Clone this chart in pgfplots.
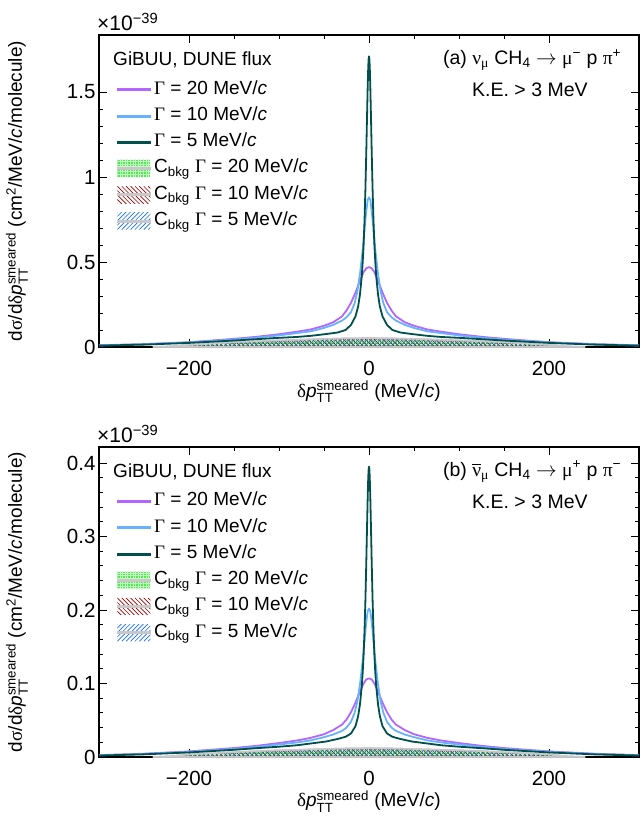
\documentclass[border=0pt]{standalone}
\usepackage{pgfplots}
\pgfplotsset{compat=1.18}
\usepackage{amsmath}
\usepackage{fontspec}
\setmainfont{Liberation Sans}
\newfontfamily\grk{Liberation Serif}
\definecolor{cP}{RGB}{178,102,255}
\definecolor{cB}{RGB}{102,178,255}
\definecolor{cT}{RGB}{0,80,76}
\definecolor{gbkg}{RGB}{80,235,80}
\definecolor{gline}{RGB}{200,250,200}
\definecolor{rbkg}{RGB}{160,0,0}
\definecolor{bbkg}{RGB}{20,110,245}
\definecolor{bkgedge}{RGB}{200,200,200}
\newcommand\ppa[1]{\pgfpointanchor{path picture bounding box}{#1}}
\tikzset{
  hatchG/.style={fill=gbkg, path picture={\pgfsetlinewidth{0.7pt}\pgfsetstrokecolor{gline}%
     \foreach \k in {0,...,180}{\pgfpathmoveto{\pgfpointadd{\ppa{south west}}{\pgfpoint{\k*2.6pt}{0pt}}}%
        \pgfpathlineto{\pgfpointadd{\ppa{south west}}{\pgfpoint{\k*2.6pt}{40pt}}}\pgfusepath{stroke}}%
     \foreach \k in {0,...,14}{\pgfpathmoveto{\pgfpointadd{\ppa{south west}}{\pgfpoint{0pt}{\k*2.6pt}}}%
        \pgfpathlineto{\pgfpointadd{\ppa{south west}}{\pgfpoint{480pt}{\k*2.6pt}}}\pgfusepath{stroke}}}},
  hatchR/.style={path picture={\pgfsetlinewidth{0.65pt}\pgfsetstrokecolor{rbkg}%
     \foreach \k in {-10,...,115}{\pgfpathmoveto{\pgfpointadd{\ppa{north west}}{\pgfpoint{\k*4.4pt}{0pt}}}%
        \pgfpathlineto{\pgfpointadd{\ppa{north west}}{\pgfpoint{\k*4.4pt+30pt}{-30pt}}}\pgfusepath{stroke}}}},
  hatchB/.style={path picture={\pgfsetlinewidth{0.65pt}\pgfsetstrokecolor{bbkg}%
     \foreach \k in {-10,...,115}{\pgfpathmoveto{\pgfpointadd{\ppa{south west}}{\pgfpoint{\k*4.4pt}{0pt}}}%
        \pgfpathlineto{\pgfpointadd{\ppa{south west}}{\pgfpoint{\k*4.4pt+30pt}{30pt}}}\pgfusepath{stroke}}}},
}
\pgfplotsset{
  bkgleg/.style={legend image code/.code={%
     \path[##1,draw=none] (0pt,-8.5pt) rectangle (33pt,8.5pt);
     \fill[bkgedge] (0pt,-0.75pt) rectangle (33pt,0.75pt);}},
  bkgG/.style={draw=bkgedge,line width=1.5pt,hatchG},
  bkgR/.style={draw=bkgedge,line width=1.5pt,hatchR},
  bkgBl/.style={draw=bkgedge,line width=1.5pt,hatchB},
  legP/.style={legend image code/.code={\fill[cP] (0pt,-0.9pt) rectangle (33pt,0.9pt);}},
  legB/.style={legend image code/.code={\fill[cB] (0pt,-0.9pt) rectangle (33pt,0.9pt);}},
  legT/.style={legend image code/.code={\fill[cT] (0pt,-0.9pt) rectangle (33pt,0.9pt);}},
  sP/.style={cP,line width=1.8pt,line join=round},
  sB/.style={cB,line width=1.8pt,line join=round},
  sT/.style={cT,line width=1.8pt,line join=round},
  myaxis/.style={
    scale only axis, width=540pt, anchor=south west, clip=false,
    xmin=-300, xmax=300, ymin=0,
    xtick={-200,0,200}, xticklabels={−200,0,200}, minor x tick num=3,
    tick align=inside, major tick length=8pt, minor tick length=4pt,
    every tick/.style={black,line width=0.9pt},
    axis line style={line width=1.2pt},
    ticklabel style={font=\fontsize{20.5}{24}\selectfont},
    xticklabel style={yshift=-11pt},
    label style={font=\fontsize{19}{22}\selectfont},
    xlabel={{\grk δ}$\textit{p}^{\text{smeared}}_{\text{TT}}$ (MeV/\textit{c})},
    ylabel={d{\grk σ}/d{\grk δ}$\textit{p}^{\text{smeared}}_{\text{TT}}$ (cm\textsuperscript{2}/MeV/\textit{c}/molecule)},
    xlabel style={at={(axis description cs:0.5,-0.098)},anchor=north},
    ylabel style={at={(axis description cs:-0.152,0.5)},anchor=center},
    legend style={font=\fontsize{19}{22}\selectfont, draw=none, fill=none, inner sep=0pt,
      row sep=9.3pt, nodes={inner ysep=0pt, inner xsep=3.5pt, text height=13pt, text depth=4pt},
      at={(axis description cs:0.033,0.853)}, anchor=north west},
    legend cell align=left,
  },
}
\begin{document}
\begin{tikzpicture}
\path[use as bounding box] (0pt,0pt) rectangle (642pt,819pt);
% ---------------- top panel ----------------
\begin{axis}[myaxis, name=top, height=312pt, at={(99pt,472pt)}, ymax=1.835,
  ytick={0,0.5,1,1.5}, yticklabels={0,0.5,1,1.5}, minor y tick num=4]
\addlegendimage{legP}
\addlegendentry{{\grk Γ} = 20 MeV/\textit{c}}
\addlegendimage{legB}
\addlegendentry{{\grk Γ} = 10 MeV/\textit{c}}
\addlegendimage{legT}
\addlegendentry{{\grk Γ} = 5 MeV/\textit{c}}
\addlegendimage{bkgG,bkgleg}
\addlegendentry{C\textsubscript{bkg} {\grk Γ} = 20 MeV/\textit{c}}
\addlegendimage{bkgR,bkgleg}
\addlegendentry{C\textsubscript{bkg} {\grk Γ} = 10 MeV/\textit{c}}
\addlegendimage{bkgBl,bkgleg}
\addlegendentry{C\textsubscript{bkg} {\grk Γ} = 5 MeV/\textit{c}}
\addplot[bkgG,forget plot] coordinates {(-240,0) (-220,0.004) (-200,0.012) (-150,0.028) (-115,0.036) (-80,0.042) (-60,0.046) (-30,0.050) (0,0.052) (30,0.050) (60,0.046) (80,0.042) (115,0.036) (150,0.028) (200,0.012) (220,0.004) (240,0)} \closedcycle;
\addplot[bkgR,forget plot] coordinates {(-240,0) (-220,0.004) (-200,0.012) (-150,0.028) (-115,0.036) (-80,0.042) (-60,0.046) (-30,0.050) (0,0.052) (30,0.050) (60,0.046) (80,0.042) (115,0.036) (150,0.028) (200,0.012) (220,0.004) (240,0)} \closedcycle;
\addplot[bkgBl,forget plot] coordinates {(-240,0) (-220,0.004) (-200,0.012) (-150,0.028) (-115,0.036) (-80,0.042) (-60,0.046) (-30,0.050) (0,0.052) (30,0.050) (60,0.046) (80,0.042) (115,0.036) (150,0.028) (200,0.012) (220,0.004) (240,0)} \closedcycle;
\addplot[sP,forget plot] coordinates {
(-300,0.01) (-250,0.017) (-200,0.028) (-150,0.048) (-125,0.06) (-100,0.075) (-80,0.09) (-65,0.103) (-50,0.125) (-40,0.145) (-30,0.18) (-25,0.215) (-20,0.26) (-15,0.32) (-10,0.39) (-6,0.44) (-3,0.463) (0,0.47)
(3,0.463) (6,0.44) (10,0.39) (15,0.32) (20,0.26) (25,0.215) (30,0.18) (40,0.145) (50,0.125) (65,0.103) (80,0.09) (100,0.075) (125,0.06) (150,0.048) (200,0.028) (250,0.017) (300,0.01)};
\addplot[sB,forget plot] coordinates {
(-300,0.009) (-250,0.016) (-200,0.027) (-150,0.044) (-125,0.055) (-100,0.068) (-80,0.082) (-65,0.092) (-50,0.112) (-40,0.13) (-30,0.155) (-25,0.175) (-20,0.205) (-16,0.257) (-13,0.325) (-10,0.43) (-7,0.57) (-5,0.69) (-3,0.80) (-1.5,0.865) (0,0.88)
(1.5,0.865) (3,0.80) (5,0.69) (7,0.57) (10,0.43) (13,0.325) (16,0.257) (20,0.205) (25,0.175) (30,0.155) (40,0.13) (50,0.112) (65,0.092) (80,0.082) (100,0.068) (125,0.055) (150,0.044) (200,0.027) (250,0.016) (300,0.009)};
\addplot[sT,forget plot] coordinates {
(-300,0.008) (-250,0.014) (-200,0.024) (-150,0.038) (-125,0.046) (-100,0.054) (-80,0.059) (-64,0.066) (-48,0.076) (-35,0.085) (-26,0.10) (-20,0.13) (-15,0.18) (-12,0.24) (-10,0.31) (-8,0.42) (-7,0.50) (-6,0.60) (-5,0.74) (-4,0.925) (-3,1.15) (-2.5,1.28) (-2,1.40) (-1.5,1.52) (-1,1.62) (-0.5,1.69) (0,1.71)
(0.5,1.69) (1,1.62) (1.5,1.52) (2,1.40) (2.5,1.28) (3,1.15) (4,0.925) (5,0.74) (6,0.60) (7,0.50) (8,0.42) (10,0.31) (12,0.24) (15,0.18) (20,0.13) (26,0.10) (35,0.085) (48,0.076) (64,0.066) (80,0.059) (100,0.054) (125,0.046) (150,0.038) (200,0.024) (250,0.014) (300,0.008)};
\node[anchor=west,font=\fontsize{19}{22}\selectfont,inner sep=0pt] at (axis description cs:0.026,0.92) {GiBUU, DUNE flux};
\node[font=\fontsize{19.5}{22}\selectfont,inner sep=0pt] at (axis description cs:0.802,0.92) {(a) {\grk ν}\textsubscript{\grk μ} CH\textsubscript{4} $\rightarrow$ {\grk μ}\textsuperscript{−} p {\grk π}\textsuperscript{+}};
\node[font=\fontsize{19.5}{22}\selectfont,inner sep=0pt] at (axis description cs:0.798,0.824) {K.E. > 3 MeV};
\end{axis}
\node[anchor=base west,inner sep=0pt,font=\fontsize{21}{24}\selectfont] at ([xshift=-2pt,yshift=4pt]top.north west) {×10\textsuperscript{−39}};
% ---------------- bottom panel ----------------
\begin{axis}[myaxis, name=bot, height=310pt, at={(99pt,62pt)}, ymax=0.4218,
  ytick={0,0.1,0.2,0.3,0.4}, yticklabels={0,0.1,0.2,0.3,0.4}, minor y tick num=4]
\addlegendimage{legP}
\addlegendentry{{\grk Γ} = 20 MeV/\textit{c}}
\addlegendimage{legB}
\addlegendentry{{\grk Γ} = 10 MeV/\textit{c}}
\addlegendimage{legT}
\addlegendentry{{\grk Γ} = 5 MeV/\textit{c}}
\addlegendimage{bkgG,bkgleg}
\addlegendentry{C\textsubscript{bkg} {\grk Γ} = 20 MeV/\textit{c}}
\addlegendimage{bkgR,bkgleg}
\addlegendentry{C\textsubscript{bkg} {\grk Γ} = 10 MeV/\textit{c}}
\addlegendimage{bkgBl,bkgleg}
\addlegendentry{C\textsubscript{bkg} {\grk Γ} = 5 MeV/\textit{c}}
\addplot[bkgG,forget plot] coordinates {(-240,0) (-220,0.001) (-200,0.0035) (-150,0.0065) (-115,0.0085) (-80,0.0098) (-60,0.0105) (-30,0.0115) (0,0.012) (30,0.0115) (60,0.0105) (80,0.0098) (115,0.0085) (150,0.0065) (200,0.0035) (220,0.001) (240,0)} \closedcycle;
\addplot[bkgR,forget plot] coordinates {(-240,0) (-220,0.001) (-200,0.0035) (-150,0.0065) (-115,0.0085) (-80,0.0098) (-60,0.0105) (-30,0.0115) (0,0.012) (30,0.0115) (60,0.0105) (80,0.0098) (115,0.0085) (150,0.0065) (200,0.0035) (220,0.001) (240,0)} \closedcycle;
\addplot[bkgBl,forget plot] coordinates {(-240,0) (-220,0.001) (-200,0.0035) (-150,0.0065) (-115,0.0085) (-80,0.0098) (-60,0.0105) (-30,0.0115) (0,0.012) (30,0.0115) (60,0.0105) (80,0.0098) (115,0.0085) (150,0.0065) (200,0.0035) (220,0.001) (240,0)} \closedcycle;
\addplot[sP,forget plot] coordinates {
(-300,0.0025) (-250,0.0045) (-200,0.0076) (-150,0.0122) (-125,0.0152) (-100,0.019) (-80,0.0225) (-65,0.026) (-50,0.031) (-40,0.0365) (-30,0.044) (-25,0.051) (-20,0.061) (-15,0.074) (-10,0.089) (-6,0.100) (-3,0.1055) (0,0.107)
(3,0.1055) (6,0.100) (10,0.089) (15,0.074) (20,0.061) (25,0.051) (30,0.044) (40,0.0365) (50,0.031) (65,0.026) (80,0.0225) (100,0.019) (125,0.0152) (150,0.0122) (200,0.0076) (250,0.0045) (300,0.0025)};
\addplot[sB,forget plot] coordinates {
(-300,0.0023) (-250,0.0041) (-200,0.007) (-150,0.011) (-125,0.0138) (-100,0.017) (-80,0.0198) (-65,0.0225) (-50,0.027) (-40,0.0305) (-30,0.0355) (-25,0.040) (-20,0.048) (-16,0.060) (-13,0.075) (-10,0.099) (-7,0.131) (-5,0.158) (-3,0.184) (-1.5,0.198) (0,0.202)
(1.5,0.198) (3,0.184) (5,0.158) (7,0.131) (10,0.099) (13,0.075) (16,0.060) (20,0.048) (25,0.040) (30,0.0355) (40,0.0305) (50,0.027) (65,0.0225) (80,0.0198) (100,0.017) (125,0.0138) (150,0.011) (200,0.007) (250,0.0041) (300,0.0023)};
\addplot[sT,forget plot] coordinates {
(-300,0.002) (-250,0.0036) (-200,0.0062) (-150,0.0098) (-125,0.012) (-100,0.014) (-80,0.016) (-64,0.0185) (-48,0.021) (-35,0.0245) (-26,0.0275) (-20,0.032) (-15,0.042) (-12,0.056) (-10,0.072) (-8,0.097) (-7,0.115) (-6,0.139) (-5,0.171) (-4,0.213) (-3,0.265) (-2.5,0.295) (-2,0.323) (-1.5,0.351) (-1,0.374) (-0.5,0.39) (0,0.395)
(0.5,0.39) (1,0.374) (1.5,0.351) (2,0.323) (2.5,0.295) (3,0.265) (4,0.213) (5,0.171) (6,0.139) (7,0.115) (8,0.097) (10,0.072) (12,0.056) (15,0.042) (20,0.032) (26,0.0275) (35,0.0245) (48,0.021) (64,0.0185) (80,0.016) (100,0.014) (125,0.012) (150,0.0098) (200,0.0062) (250,0.0036) (300,0.002)};
\node[anchor=west,font=\fontsize{19}{22}\selectfont,inner sep=0pt] at (axis description cs:0.026,0.92) {GiBUU, DUNE flux};
\node[font=\fontsize{19.5}{22}\selectfont,inner sep=0pt] at (axis description cs:0.802,0.92) {(b) $\overline{\hbox{\grk ν}}$\textsubscript{\grk μ} CH\textsubscript{4} $\rightarrow$ {\grk μ}\textsuperscript{+} p {\grk π}\textsuperscript{−}};
\node[font=\fontsize{19.5}{22}\selectfont,inner sep=0pt] at (axis description cs:0.798,0.824) {K.E. > 3 MeV};
\end{axis}
\node[anchor=base west,inner sep=0pt,font=\fontsize{21}{24}\selectfont] at ([xshift=-2pt,yshift=4pt]bot.north west) {×10\textsuperscript{−39}};
\end{tikzpicture}
\end{document}
